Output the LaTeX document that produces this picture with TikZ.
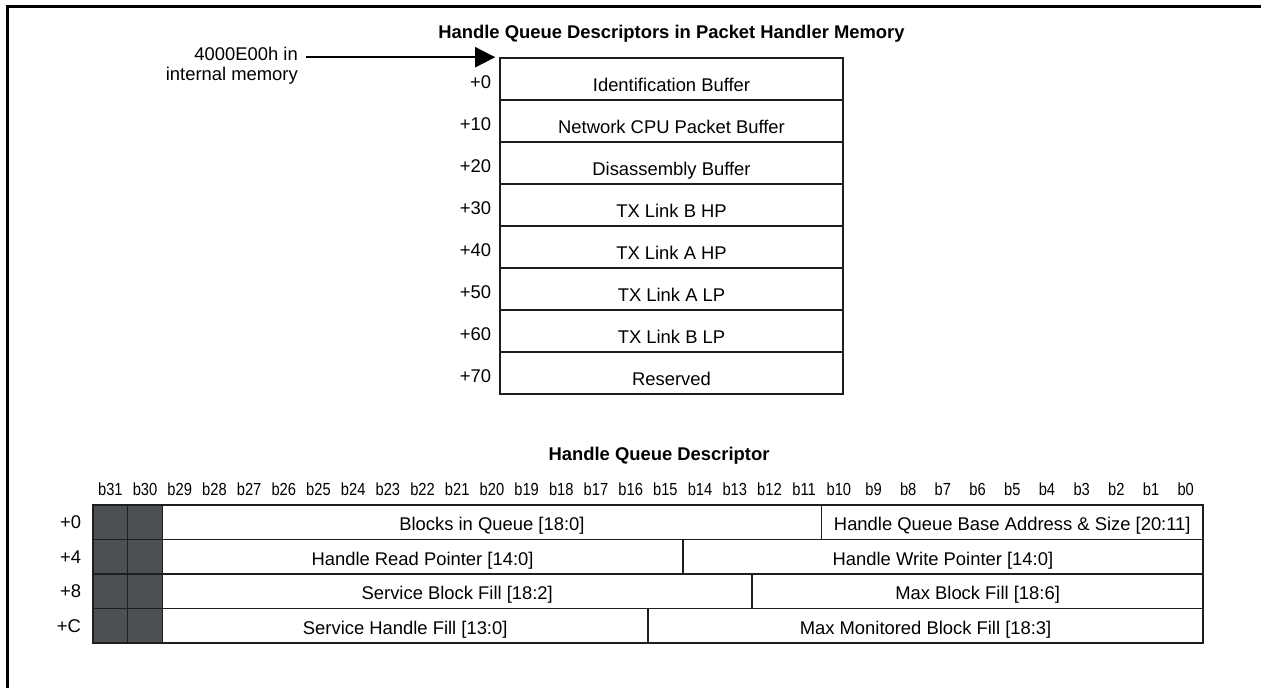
\documentclass[tikz,border=0pt]{standalone}
\usepackage{fontspec}
\setmainfont{Liberation Sans}
\newfontfamily\narrowfont[FakeStretch=0.84]{Liberation Sans}
\usetikzlibrary{arrows.meta, positioning}
\definecolor{gridline}{HTML}{1E1E1E}
\definecolor{rsvdgray}{HTML}{4B5054}

\begin{document}
\begin{tikzpicture}[x=1pt, y=-1pt,
  memrow/.style={draw=gridline, line width=1.6pt, minimum width=343pt, minimum height=42pt,
    inner sep=0pt, text height=24pt, text depth=0pt, font=\fontsize{18.4}{20}\selectfont},
  offlbl/.style={inner sep=0pt, font=\fontsize{18.4}{20}\selectfont},
  titlelbl/.style={inner sep=0pt, font=\fontsize{18.4}{20}\selectfont\bfseries},
  bitlbl/.style={inner sep=0pt, font=\fontsize{17.5}{20}\selectfont\narrowfont},
  field/.style={draw=gridline, line width=1.6pt, minimum height=34.5pt, inner sep=0pt,
    text height=17pt, text depth=0pt, font=\fontsize{18.4}{20}\selectfont},
  rsvd/.style={draw=gridline, line width=1.6pt, fill=rsvdgray, minimum width=34.69pt,
    minimum height=34.5pt, inner sep=0pt},
  ptr/.style={line width=2pt, -{Triangle[length=20pt, width=20pt]}}]
  \useasboundingbox (0,0) rectangle (1261,688);

  % frame
  \draw[line width=3pt] (7,688) -- (7,6.5) -- (1261,6.5);

  % descriptor table in memory
  \node[titlelbl, anchor=base] (memtitle) at (671.5,38) {Handle Queue Descriptors in Packet Handler Memory};
  \foreach \i/\off/\txt in {
    0/+0/Identification Buffer,
    1/+10/Network CPU Packet Buffer,
    2/+20/Disassembly Buffer,
    3/+30/TX Link B HP,
    4/+40/TX Link A HP,
    5/+50/TX Link A LP,
    6/+60/TX Link B LP,
    7/+70/Reserved} {
    \node[memrow] (m\i) at (671.5, {79+42*\i}) {\txt};
    \node[offlbl, anchor=base east] (mo\i) at ([xshift=-8pt, yshift=-9.5pt]m\i.west) {\off};
  }

  % base address pointer
  \node[offlbl, anchor=base east] (addr1) at (298,60) {4000E00h in};
  \node[offlbl, anchor=base east] (addr2) at (298,80) {internal memory};
  \coordinate (ptrstart) at (addr1.east |- m0.north west);
  \draw[ptr] ([xshift=8pt]ptrstart) -- ([xshift=-4pt]m0.north west);

  % one descriptor, bit layout
  \node[titlelbl, anchor=base] (regtitle) at (659,460) {Handle Queue Descriptor};
  \foreach \k in {0,...,31} {
    \pgfmathtruncatemacro\bitno{31-\k}
    \node[bitlbl, anchor=base] (bit\k) at ({93+(\k+0.5)*34.69}, 495) {b\bitno};
  }
  \foreach \r/\off in {0/+0, 1/+4, 2/+8, 3/+C} {
    \node[rsvd] (rsa\r) at (110.35, {522.25+34.5*\r}) {};
    \node[rsvd] (rsb\r) at (145.04, {522.25+34.5*\r}) {};
    \node[offlbl, anchor=east] (ro\r) at ([xshift=-11pt]rsa\r.west) {\off};
  }
  \foreach \r/\lo/\hi/\txt in {
    0/2/21/Blocks in Queue [18:0],
    0/21/32/Handle Queue Base Address \& Size [20:11],
    1/2/17/Handle Read Pointer [14:0],
    1/17/32/Handle Write Pointer [14:0],
    2/2/19/Service Block Fill [18:2],
    2/19/32/Max Block Fill [18:6],
    3/2/16/Service Handle Fill [13:0],
    3/16/32/Max Monitored Block Fill [18:3]} {
    \node[field, minimum width={(\hi-\lo)*34.69pt}] (f\r-\lo) at ({93+(\lo+\hi)*17.345}, {522.25+34.5*\r}) {\txt};
  }
\end{tikzpicture}
\end{document}
